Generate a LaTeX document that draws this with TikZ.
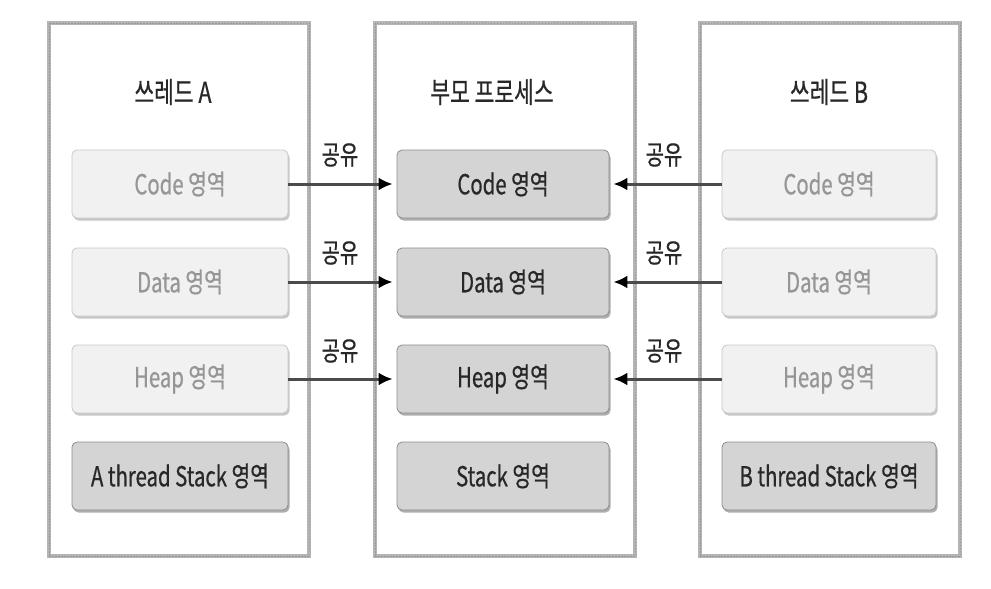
\documentclass[tikz,border=0pt]{standalone}
\usepackage{fontspec}
\setmainfont[FakeStretch=0.74,FakeBold=0.6]{Noto Sans CJK KR}
\usetikzlibrary{shadows,arrows.meta}
\definecolor{lightfill}{RGB}{241,241,241}
\definecolor{lightdraw}{RGB}{200,200,200}
\definecolor{lighttext}{RGB}{150,150,150}
\definecolor{darkfill}{RGB}{212,212,212}
\definecolor{darkdraw}{RGB}{140,140,140}
\definecolor{maintext}{RGB}{40,40,40}
\definecolor{framecol}{RGB}{180,180,180}
\definecolor{arrowcol}{RGB}{75,75,75}
\begin{document}
\begin{tikzpicture}[x=1pt,y=-1pt,
  outerbox/.style={draw=framecol,line width=3.5pt,fill=white,minimum width=260pt,minimum height=533pt,inner sep=0pt},
  outerdash/.style={draw=gray!80,line width=1pt,dash pattern=on 1.5pt off 1.5pt,minimum width=260pt,minimum height=533pt,inner sep=0pt},
  lightbox/.style={draw=lightdraw,line width=0.8pt,fill=lightfill,rounded corners=5pt,minimum height=68pt,inner sep=0pt,text=lighttext,font=\fontsize{27.5}{29}\selectfont,
     drop shadow={shadow xshift=1.5pt,shadow yshift=-2.5pt,fill=gray!55,opacity=0.8}},
  darkbox/.style={draw=darkdraw,line width=0.8pt,fill=darkfill,rounded corners=5pt,minimum height=68pt,inner sep=0pt,text=maintext,font=\fontsize{27.5}{29}\selectfont,
     drop shadow={shadow xshift=1.5pt,shadow yshift=-2.5pt,fill=gray!70,opacity=0.9}},
  title/.style={text=maintext,font=\fontsize{29}{31}\selectfont},
  share/.style={text=maintext,font=\fontsize{27}{29}\selectfont},
  sharearrow/.style={draw=arrowcol,line width=3pt,-{Latex[length=14pt,width=13pt,black]},shorten >=4pt}
]
\useasboundingbox (0,0) rectangle (991,589);
% outer frames
\node[outerbox] (FA) at (179,289.5) {};
\node[outerdash] (FAd) at (179,289.5) {};
\node[outerbox] (FP) at (505,289.5) {};
\node[outerdash] (FPd) at (505,289.5) {};
\node[outerbox] (FB) at (830,289.5) {};
\node[outerdash] (FBd) at (830,289.5) {};
% titles
\node[title] (TA) at (173,92) {쓰레드 A};
\node[title] (TP) at (492,92) {부모 프로세스};
\node[title] (TB) at (829,92) {쓰레드 B};
% thread A
\node[lightbox,minimum width=216pt] (AC) at (180,184) {Code 영역};
\node[lightbox,minimum width=216pt] (AD) at (180,282) {Data 영역};
\node[lightbox,minimum width=216pt] (AH) at (180,379) {Heap 영역};
\node[darkbox,minimum width=216pt] (AS) at (180,476) {A thread Stack 영역};
% parent
\node[darkbox,minimum width=212pt] (PC) at (503,184) {Code 영역};
\node[darkbox,minimum width=212pt] (PD) at (503,282) {Data 영역};
\node[darkbox,minimum width=212pt] (PH) at (503,379) {Heap 영역};
\node[darkbox,minimum width=212pt] (PS) at (503,476) {Stack 영역};
% thread B
\node[lightbox,minimum width=214pt] (BC) at (829,184) {Code 영역};
\node[lightbox,minimum width=214pt] (BD) at (829,282) {Data 영역};
\node[lightbox,minimum width=214pt] (BH) at (829,379) {Heap 영역};
\node[darkbox,minimum width=214pt] (BS) at (829,476) {B thread Stack 영역};
% arrows
\draw[sharearrow] (AC.east) -- (PC.west);
\draw[sharearrow] (AD.east) -- (PD.west);
\draw[sharearrow] (AH.east) -- (PH.west);
\draw[sharearrow] (BC.west) -- (PC.east);
\draw[sharearrow] (BD.west) -- (PD.east);
\draw[sharearrow] (BH.west) -- (PH.east);
% labels
\node[share] (LA1) at (340,155) {공유};
\node[share] (LA2) at (340,253) {공유};
\node[share] (LA3) at (340,351) {공유};
\node[share] (LB1) at (664,155) {공유};
\node[share] (LB2) at (664,253) {공유};
\node[share] (LB3) at (664,351) {공유};
\end{tikzpicture}
\end{document}
